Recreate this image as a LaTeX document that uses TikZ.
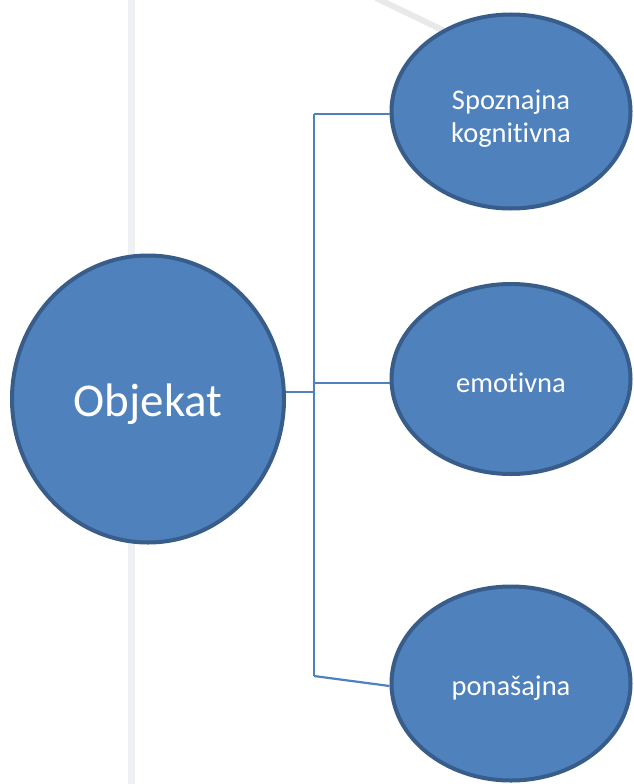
\documentclass[tikz,border=0pt]{standalone}
\usepackage{fontspec}
\setmainfont[Ligatures={NoCommon}]{Carlito}
\usetikzlibrary{shapes.geometric}
\definecolor{fillblue}{HTML}{4F81BD}
\definecolor{edgeblue}{HTML}{385D8A}
\definecolor{bgline}{HTML}{EEF0F4}
\definecolor{bgdiag}{HTML}{E9E9EB}
\tikzset{
  bubble/.style={ellipse, draw=edgeblue, fill=fillblue, line width=4pt, inner sep=0pt},
  bubbletext/.style={text=white, align=center, inner sep=0pt, font=\fontsize{28.5}{33}\selectfont},
  link/.style={draw=fillblue, line width=2.2pt}
}
\begin{document}
\begin{tikzpicture}[x=1pt,y=-1pt]
\useasboundingbox (0,0) rectangle (633,784);
\clip (0,0) rectangle (633,784);
\fill[white] (0,0) rectangle (633,784);
% background decorations
\draw[bgline, line width=7pt] (131,0) -- (131,784);
\draw[bgdiag, line width=6pt] (376,-2) -- (480,48);
% shapes
\node[bubble, minimum width=272pt, minimum height=287pt] (obj) at (148,399) {};
\node[bubble, minimum width=239pt, minimum height=194pt] (sp) at (511,111.5) {};
\node[bubble, minimum width=239pt, minimum height=190pt] (em) at (511,379) {};
\node[bubble, minimum width=239pt, minimum height=194pt] (po) at (511,683.5) {};
% texts
\node[bubbletext, font=\fontsize{47}{56}\selectfont] (objt) at ([yshift=-5pt]obj.center) {Objekat};
\node[bubbletext] (spt) at ([yshift=-7pt]sp.center) {Spoznajna\\kognitivna};
\node[bubbletext] (emt) at ([yshift=-4pt]em.center) {emotivna};
\node[bubbletext] (pot) at ([yshift=-5pt]po.center) {ponašajna};
% junction coordinates
\coordinate (jt) at (314,114);
\coordinate (jo) at (314,392);
\coordinate (je) at (314,383);
\coordinate (jb) at (314,676);
% connectors
\draw[link] (jt) -- (jb);
\draw[link] ([yshift=7pt]obj.east) -- (jo);
\draw[link] (jt) -- ([yshift=-2.5pt]sp.west);
\draw[link] (je) -- ([yshift=-4pt]em.west);
\draw[link] (jb) -- ([yshift=-2.5pt]po.west);
\end{tikzpicture}
\end{document}
